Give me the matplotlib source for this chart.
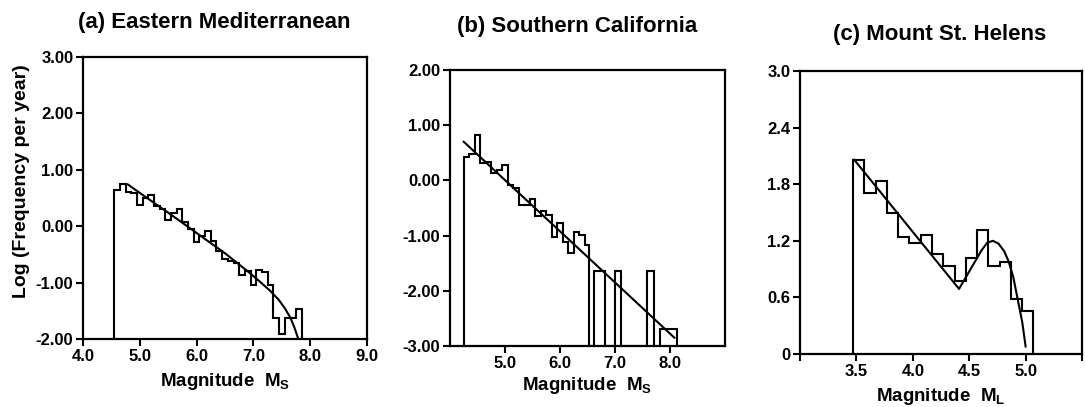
import matplotlib
matplotlib.use("Agg")
import matplotlib.pyplot as plt
import numpy as np

plt.rcParams['font.family'] = ['Liberation Sans', 'DejaVu Sans']
plt.rcParams['font.weight'] = 'bold'
plt.rcParams['mathtext.fontset'] = 'custom'
plt.rcParams['mathtext.rm'] = 'Liberation Sans:bold'
plt.rcParams['mathtext.bf'] = 'Liberation Sans:bold'
plt.rcParams['mathtext.it'] = 'Liberation Sans:bold'

# (a) Eastern Mediterranean
a_edges = [4.55, 4.65, 4.75, 4.85, 4.95, 5.05, 5.15, 5.25, 5.35, 5.45, 5.55, 5.65,
           5.75, 5.85, 5.95, 6.05, 6.15, 6.25, 6.35, 6.45, 6.55, 6.65, 6.75, 6.85,
           6.95, 7.05, 7.15, 7.25, 7.35, 7.45, 7.55, 7.65, 7.75, 7.85]
a_logf = [0.65, 0.74, 0.60, 0.58, 0.38, 0.50, 0.55, 0.36, 0.30, 0.11, 0.24, 0.31,
          0.07, -0.05, -0.28, -0.18, -0.08, -0.27, -0.44, -0.59, -0.62, -0.65, -0.86, -0.80,
          -1.04, -0.77, -0.82, -1.04, -1.63, -1.92, -1.63, -1.63, -1.47]
a_fit_m = [4.79, 5.0, 5.5, 6.0, 6.5, 6.9, 7.1, 7.3, 7.45, 7.55, 7.65, 7.72, 7.79]
a_fit_y = [0.74, 0.59, 0.24, -0.12, -0.48, -0.80, -0.97, -1.15, -1.31, -1.45, -1.62, -1.79, -2.0]

# (b) Southern California (nan = no events)
b_edges = [4.25, 4.35, 4.45, 4.55, 4.65, 4.75, 4.85, 4.95, 5.05, 5.15, 5.25, 5.35,
           5.45, 5.55, 5.65, 5.75, 5.85, 5.95, 6.05, 6.15, 6.25, 6.35, 6.45, 6.52,
           6.61, 6.71, 6.82, 6.91, 7.0, 7.1, 7.2, 7.3, 7.4, 7.5, 7.59, 7.7,
           7.82, 7.92, 8.02, 8.12]
b_logf = [0.42, 0.48, 0.82, 0.32, 0.34, 0.13, 0.19, 0.27, -0.08, -0.14, -0.44, -0.44,
          -0.33, -0.65, -0.56, -0.62, -1.02, -0.77, -1.11, -1.32, -0.93, -0.99, -1.17, np.nan,
          -1.64, -1.64, np.nan, np.nan, -1.64, np.nan, np.nan, np.nan, np.nan, np.nan, -1.64, np.nan,
          -2.70, -2.70, -2.70]
b_fit_m = [4.25, 8.08]
b_fit_y = [0.70, -2.85]

# (c) Mount St. Helens
c_edges = [3.47, 3.57, 3.67, 3.77, 3.87, 3.97, 4.07, 4.17, 4.27, 4.37, 4.47, 4.57,
           4.67, 4.77, 4.87, 4.97, 5.07]
c_logf = [2.06, 1.71, 1.83, 1.49, 1.24, 1.18, 1.26, 1.06, 0.93, 0.77, 1.02, 1.31,
          0.93, 0.98, 0.58, 0.46]
c_fit_m = [3.48, 4.41, 4.61, 4.66, 4.71, 4.76, 4.81, 4.85, 4.89, 4.93, 4.97, 5.0]
c_fit_y = [2.06, 0.69, 1.10, 1.18, 1.20, 1.17, 1.09, 0.98, 0.82, 0.58, 0.34, 0.08]

fig = plt.figure(figsize=(10.85, 4.07), dpi=100)
W, H = 1085, 407

def make_ax(l, r, t, b):
    return fig.add_axes([l / W, (H - b) / H, (r - l) / W, (b - t) / H])

ax1 = make_ax(83, 367, 57, 339)
ax2 = make_ax(450, 725, 70, 346)
ax3 = make_ax(800, 1082, 71, 354)

def draw_hist(ax, edges, vals, bottom, fit_m, fit_y):
    v = np.array(vals, dtype=float)
    v = np.where(np.isnan(v), bottom, v)
    ax.stairs(v, edges, baseline=bottom, color='k', lw=1.5)
    ax.plot(fit_m, fit_y, color='k', lw=1.5)

def style(ax):
    for s in ax.spines.values():
        s.set_linewidth(1.6)
    ax.tick_params(direction='out', length=5, width=1.5, labelsize=12, pad=2)
    for lab in ax.get_xticklabels() + ax.get_yticklabels():
        lab.set_fontweight('bold')

# panel a
draw_hist(ax1, a_edges, a_logf, -2.0, a_fit_m, a_fit_y)
ax1.set_xlim(4.0, 9.0)
ax1.set_ylim(-2.0, 3.0)
ax1.set_xticks(np.arange(4.0, 9.01, 1.0))
ax1.set_xticklabels(["4.0", "5.0", "6.0", "7.0", "8.0", "9.0"])
ax1.set_yticks(np.arange(-2.0, 3.01, 1.0))
ax1.set_yticklabels(["-2.00", "-1.00", "0.00", "1.00", "2.00", "3.00"])
ax1.set_xlabel(r"Magnitude  $\mathbf{M_S}$", fontsize=13.5, fontweight='bold', labelpad=5)
style(ax1)
fig.text(22 / W, 1 - 181 / H, "Log (Frequency per year)", rotation=90, ha='center',
         va='center', fontsize=14, fontweight='bold')

# panel b
draw_hist(ax2, b_edges, b_logf, -3.0, b_fit_m, b_fit_y)
ax2.set_xlim(4.0, 9.0)
ax2.set_ylim(-3.0, 2.0)
ax2.set_xticks([5.0, 6.0, 7.0, 8.0])
ax2.set_xticklabels(["5.0", "6.0", "7.0", "8.0"])
ax2.set_yticks(np.arange(-3.0, 2.01, 1.0))
ax2.set_yticklabels(["-3.00", "-2.00", "-1.00", "0.00", "1.00", "2.00"])
ax2.set_xlabel(r"Magnitude  $\mathbf{M_S}$", fontsize=13.5, fontweight='bold', labelpad=3)
style(ax2)

# panel c
draw_hist(ax3, c_edges, c_logf, 0.0, c_fit_m, c_fit_y)
ax3.set_xlim(3.0, 5.5)
ax3.set_ylim(0.0, 3.0)
ax3.set_xticks([3.0, 3.5, 4.0, 4.5, 5.0, 5.5])
ax3.set_xticklabels(["", "3.5", "4.0", "4.5", "5.0", ""])
ax3.set_yticks([0.0, 0.6, 1.2, 1.8, 2.4, 3.0])
ax3.set_yticklabels(["0", "0.6", "1.2", "1.8", "2.4", "3.0"])
ax3.set_xlabel(r"Magnitude  $\mathbf{M_L}$", fontsize=13.5, fontweight='bold', labelpad=5)
style(ax3)

fig.text(214 / W, 1 - 28 / H, "(a) Eastern Mediterranean", ha='center', va='baseline',
         fontsize=16, fontweight='bold')
fig.text(577 / W, 1 - 32 / H, "(b) Southern California", ha='center', va='baseline',
         fontsize=16, fontweight='bold')
fig.text(940 / W, 1 - 40 / H, "(c) Mount St. Helens", ha='center', va='baseline',
         fontsize=16, fontweight='bold')

fig.savefig("out.png", dpi=100)
